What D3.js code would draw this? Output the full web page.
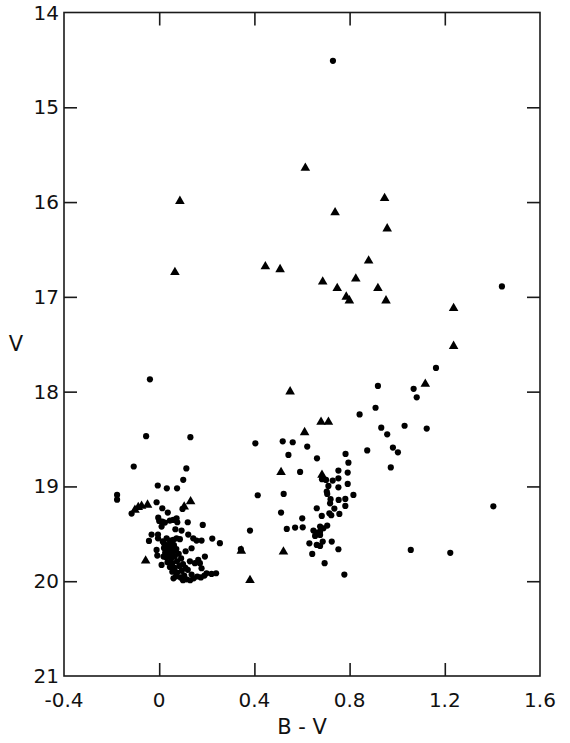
<!DOCTYPE html>
<html>
<head>
<meta charset="utf-8">
<script src="https://cdn.jsdelivr.net/npm/d3@7"></script>
<style>
  html, body { margin: 0; padding: 0; background: #fff; }
  svg { display: block; }
  text { font-family: "DejaVu Sans", sans-serif; fill: #111; }
</style>
</head>
<body>
<svg id="chart" width="570" height="743"></svg>
<script>
// ---- Data (B-V colour, V magnitude) ----
const xTickValues = [-0.4, 0, 0.4, 0.8, 1.2, 1.6];
const xTickLabels = ["-0.4", "0", "0.4", "0.8", "1.2", "1.6"];
const yTickValues = [14, 15, 16, 17, 18, 19, 20, 21];
const yTickLabels = ["14", "15", "16", "17", "18", "19", "20", "21"];
const xTitle = "B - V";
const yTitle = "V";

// stars plotted as filled circles
const dotStars = [
  [0.73, 14.51], [1.44, 16.89], [1.163, 17.75], [0.919, 17.94], [1.069, 17.97],
  [1.082, 18.06], [0.909, 18.17], [0.842, 18.24], [0.933, 18.38], [0.958, 18.45],
  [1.031, 18.36], [1.124, 18.39], [0.982, 18.59], [1.003, 18.64], [0.973, 18.80],
  [0.874, 18.62], [1.057, 19.67], [1.223, 19.70], [1.404, 19.21],
  // middle group
  [0.404, 18.545], [0.519, 18.524], [0.561, 18.534], [0.622, 18.58], [0.543, 18.668],
  [0.663, 18.703], [0.783, 18.657], [0.795, 18.749], [0.592, 18.847],
  [0.684, 18.924], [0.701, 18.931], [0.729, 18.938], [0.753, 18.914], [0.753, 18.833],
  [0.792, 18.854], [0.792, 18.974], [0.753, 19.009], [0.711, 18.995], [0.704, 19.054],
  [0.706, 19.079], [0.816, 19.09], [0.782, 19.132], [0.754, 19.142], [0.720, 19.135],
  [0.718, 19.178], [0.736, 19.234], [0.782, 19.206], [0.662, 19.23], [0.715, 19.283],
  [0.723, 19.304], [0.757, 19.29], [0.683, 19.311], [0.414, 19.093], [0.523, 19.079],
  [0.512, 19.276], [0.601, 19.336], [0.536, 19.448], [0.571, 19.434], [0.603, 19.431],
  [0.648, 19.466], [0.663, 19.487], [0.676, 19.476], [0.676, 19.424], [0.690, 19.441],
  [0.706, 19.413], [0.655, 19.522], [0.676, 19.512], [0.631, 19.60], [0.662, 19.617],
  [0.676, 19.628], [0.687, 19.582], [0.725, 19.582], [0.753, 19.663], [0.643, 19.712],
  [0.695, 19.81], [0.778, 19.93], [0.3815, 19.466], [0.343, 19.66],
  // blue group
  [-0.039, 17.87], [-0.055, 18.47], [0.131, 18.48], [-0.107, 18.79], [0.114, 18.81],
  [0.101, 18.93], [-0.006, 18.99], [0.032, 19.02], [0.075, 19.02], [-0.177, 19.09],
  [-0.177, 19.14], [-0.116, 19.286], [-0.011, 19.167], [0.013, 19.23], [0.036, 19.276],
  [0.098, 19.237], [-0.004, 19.33], [0.0, 19.364], [0.013, 19.371], [0.024, 19.381],
  [0.045, 19.36], [0.059, 19.353], [0.073, 19.336], [0.076, 19.378], [0.12, 19.378],
  [0.183, 19.406], [0.010, 19.424], [0.068, 19.452], [0.094, 19.466], [-0.032, 19.508],
  [-0.043, 19.575], [-0.005, 19.508], [-0.005, 19.547], [0.031, 19.547], [0.045, 19.571],
  [0.059, 19.564], [0.073, 19.547], [0.087, 19.557], [0.122, 19.508], [0.143, 19.547],
  [0.157, 19.571], [0.178, 19.571], [0.223, 19.55], [0.255, 19.599], [-0.011, 19.67],
  [-0.008, 19.73], [0.111, 19.684], [0.136, 19.652], [0.192, 19.74], [0.129, 19.79],
  [0.150, 19.81], [0.171, 19.81], [0.164, 19.775], [0.178, 19.863], [0.199, 19.916],
  [0.220, 19.923], [0.239, 19.916], [0.120, 19.88], [0.136, 19.93], [0.010, 19.828],
  [0.02, 19.60], [0.035, 19.62], [0.05, 19.60], [0.02, 19.65], [0.04, 19.66],
  [0.055, 19.64], [0.025, 19.70], [0.045, 19.71], [0.06, 19.69], [0.03, 19.75],
  [0.05, 19.76], [0.065, 19.74], [0.035, 19.80], [0.055, 19.81], [0.075, 19.79],
  [0.045, 19.85], [0.065, 19.86], [0.085, 19.84], [0.055, 19.90], [0.075, 19.91],
  [0.095, 19.89], [0.07, 19.95], [0.09, 19.96], [0.105, 19.94], [0.115, 19.98],
  [0.13, 19.99], [0.10, 19.99], [0.06, 19.97], [0.145, 19.97], [0.16, 19.95],
  [0.175, 19.96], [0.19, 19.94],
  [0.015, 19.58], [0.062, 19.62], [0.072, 19.66], [0.082, 19.71], [0.092, 19.76],
  [0.10, 19.82], [0.11, 19.86], [0.018, 19.74]
];

// stars plotted as filled triangles
const triangleStars = [
  [0.087, 15.99], [0.066, 16.74], [0.614, 15.64], [0.947, 15.96], [0.739, 16.11],
  [0.958, 16.28], [0.446, 16.68], [0.508, 16.71], [0.880, 16.62], [0.687, 16.84],
  [0.826, 16.81], [0.748, 16.91], [0.919, 16.91], [0.786, 17.00], [0.799, 17.04],
  [0.953, 17.04], [1.237, 17.12], [1.237, 17.52], [1.118, 17.92], [0.550, 18.00],
  [0.680, 18.32], [0.711, 18.32], [0.611, 18.43], [0.512, 18.85], [0.684, 18.879],
  [0.522, 19.69], [0.3815, 19.99], [0.345, 19.68],
  [-0.102, 19.248], [-0.088, 19.22], [-0.074, 19.206], [-0.049, 19.195],
  [0.105, 19.215], [0.132, 19.16], [-0.057, 19.785]
];

// ---- Layout ----
const svg = d3.select("#chart");
const plotLeft = 64, plotRight = 540, plotTop = 12.5, plotBottom = 676;

const x = d3.scaleLinear().domain([-0.4, 1.6]).range([plotLeft, plotRight]);
const y = d3.scaleLinear().domain([14, 21]).range([plotTop, plotBottom]);

const ink = "#1a1a1a";
const tickLen = 13;

// frame
svg.append("rect")
  .attr("x", plotLeft).attr("y", plotTop)
  .attr("width", plotRight - plotLeft).attr("height", plotBottom - plotTop)
  .attr("fill", "none").attr("stroke", ink).attr("stroke-width", 1.6);

const xInner = xTickValues.slice(1, -1);
const yInner = yTickValues.slice(1, -1);

function styleAxis(g) {
  g.select(".domain").remove();
  g.selectAll(".tick line").attr("stroke", ink).attr("stroke-width", 1.6);
}

// inward ticks on all four sides
styleAxis(svg.append("g").attr("transform", `translate(0,${plotBottom})`)
  .call(d3.axisTop(x).tickValues(xInner).tickSize(tickLen).tickFormat("")));
styleAxis(svg.append("g").attr("transform", `translate(0,${plotTop})`)
  .call(d3.axisBottom(x).tickValues(xInner).tickSize(tickLen).tickFormat("")));
styleAxis(svg.append("g").attr("transform", `translate(${plotLeft},0)`)
  .call(d3.axisRight(y).tickValues(yInner).tickSize(tickLen).tickFormat("")));
styleAxis(svg.append("g").attr("transform", `translate(${plotRight},0)`)
  .call(d3.axisLeft(y).tickValues(yInner).tickSize(tickLen).tickFormat("")));

// tick labels
svg.append("g").selectAll("text")
  .data(xTickValues)
  .join("text")
  .attr("x", d => x(d))
  .attr("y", 707)
  .attr("text-anchor", "middle")
  .attr("font-size", 20)
  .text((d, i) => xTickLabels[i]);

svg.append("g").selectAll("text")
  .data(yTickValues)
  .join("text")
  .attr("x", plotLeft - 5)
  .attr("y", d => y(d) + 7)
  .attr("text-anchor", "end")
  .attr("font-size", 20)
  .text((d, i) => yTickLabels[i]);

// axis titles
svg.append("text")
  .attr("x", 302).attr("y", 734)
  .attr("text-anchor", "middle")
  .attr("font-size", 21)
  .text(xTitle);

svg.append("text")
  .attr("x", 16).attr("y", 351)
  .attr("text-anchor", "middle")
  .attr("font-size", 21)
  .text(yTitle);

// points
svg.append("g").selectAll("circle")
  .data(dotStars)
  .join("circle")
  .attr("cx", d => x(d[0]))
  .attr("cy", d => y(d[1]))
  .attr("r", 3.1)
  .attr("fill", "#000");

const tri = d3.symbol().type(d3.symbolTriangle).size(40);
svg.append("g").selectAll("path")
  .data(triangleStars)
  .join("path")
  .attr("transform", d => `translate(${x(d[0])},${y(d[1])})`)
  .attr("d", tri)
  .attr("fill", "#000");
</script>
</body>
</html>
